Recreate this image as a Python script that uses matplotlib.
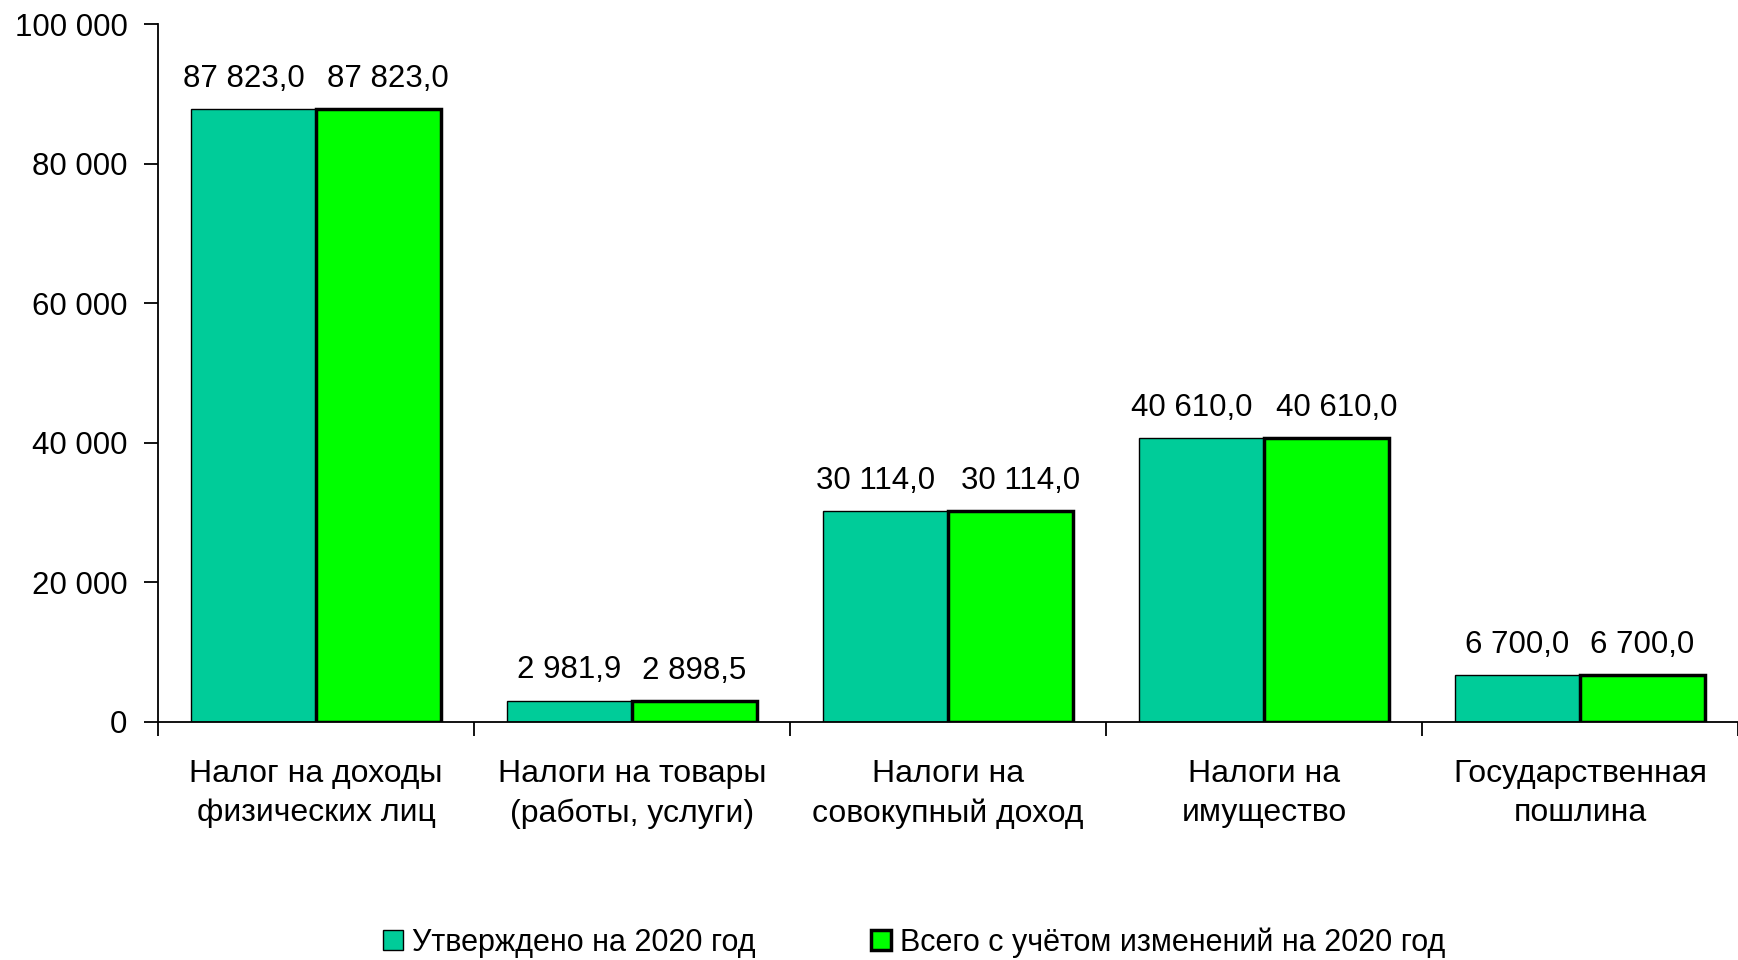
import numpy as np
import matplotlib
matplotlib.use("Agg")
import matplotlib.pyplot as plt
from matplotlib.ticker import FuncFormatter, FixedLocator
from matplotlib.patches import Patch

categories = [
    "Налог на доходы\nфизических лиц",
    "Налоги на товары\n(работы, услуги)",
    "Налоги на\nсовокупный доход",
    "Налоги на\nимущество",
    "Государственная\nпошлина",
]
approved = [87823.0, 2981.9, 30114.0, 40610.0, 6700.0]
revised = [87823.0, 2898.5, 30114.0, 40610.0, 6700.0]
series_names = ["Утверждено на 2020 год", "Всего с учётом изменений на 2020 год"]

plt.rcParams["font.family"] = ["Liberation Sans", "DejaVu Sans"]


def fmt_value(v):
    # 87823.0 -> "87 823,0"
    return f"{v:,.1f}".replace(",", " ").replace(".", ",")


fig = plt.figure(figsize=(17.38, 9.6), dpi=100)
ax = fig.add_axes([0.0909, 0.2484, 0.9091, 0.7266])

x = np.arange(len(categories))
w = 0.396
b1 = ax.bar(x - w / 2, approved, w, color="#00CC99", edgecolor="black", linewidth=1.0)
b2 = ax.bar(x + w / 2, revised, w, color="#00FF00", edgecolor="black", linewidth=2.5)

# value labels; long labels get pushed apart so neighbours don't touch
for bars, vals, side in [(b1, approved, -1), (b2, revised, 1)]:
    for rect, v in zip(bars, vals):
        label = fmt_value(v)
        dx = 7 * side if len(label) > 7 else 0
        ax.annotate(label, (rect.get_x() + rect.get_width() / 2, v),
                    xytext=(dx, 11), textcoords="offset points",
                    ha="center", va="bottom", fontsize=22.5)

ax.set_xlim(-0.5, len(categories) - 0.5)
ax.set_ylim(0, 100000)
ax.set_yticks(np.arange(0, 100001, 20000))
ax.yaxis.set_major_formatter(FuncFormatter(lambda v, p: f"{int(v):,}".replace(",", " ")))

ax.set_xticks(x)
ax.set_xticklabels(categories, fontsize=23, linespacing=1.4)
ax.xaxis.set_minor_locator(FixedLocator(np.arange(-0.5, len(categories), 1.0)))
ax.tick_params(axis="x", which="major", length=0, pad=27)
ax.tick_params(axis="x", which="minor", length=10, width=1.3, direction="out")
ax.tick_params(axis="y", length=10, width=1.3, labelsize=22.5, pad=12)

for s in ["top", "right"]:
    ax.spines[s].set_visible(False)
for s in ["left", "bottom"]:
    ax.spines[s].set_linewidth(1.3)

handles = [
    Patch(facecolor="#00CC99", edgecolor="black", linewidth=1.0),
    Patch(facecolor="#00FF00", edgecolor="black", linewidth=2.5),
]
fig.legend(handles, series_names, loc="center", bbox_to_anchor=(0.526, 0.018), ncol=2,
           frameon=False, handlelength=0.65, handleheight=0.65, handletextpad=0.3,
           columnspacing=3.8,
           prop={"family": ["Liberation Sans Narrow", "Liberation Sans", "DejaVu Sans"], "size": 22})

fig.savefig("out.png", dpi=100)
